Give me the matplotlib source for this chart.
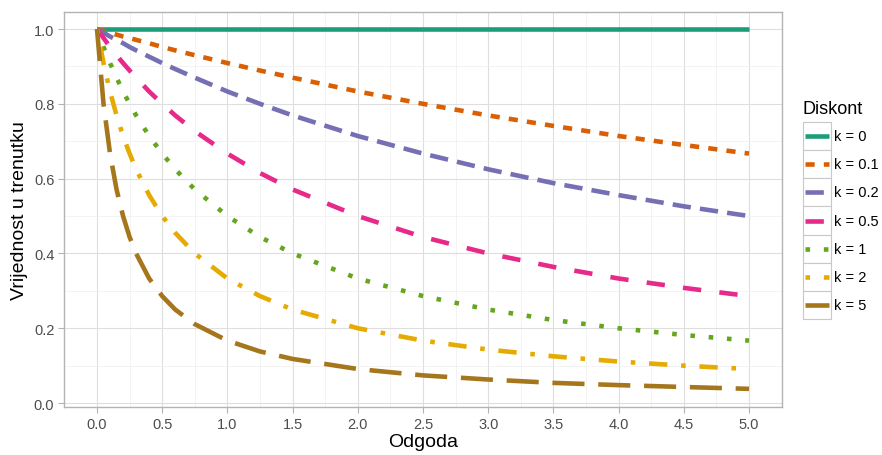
import numpy as np
import matplotlib.pyplot as plt
from matplotlib.patches import Rectangle

plt.rcParams['font.family'] = ['Liberation Sans', 'DejaVu Sans']

# odgoda (x) i vrijednosti procitane sa slike
odgoda = [0, 0.05, 0.1, 0.15, 0.2, 0.25, 0.3, 0.4, 0.5, 0.6, 0.75, 1, 1.25, 1.5, 2, 2.5, 3, 3.5, 4, 4.5, 5]
v_k0 = [1] * len(odgoda)
v_k01 = [1, .995, .99, .985, .98, .976, .971, .962, .952, .943, .930, .909, .889, .870, .833, .800, .769, .741, .714, .690, .667]
v_k02 = [1, .99, .98, .971, .962, .952, .943, .926, .909, .893, .870, .833, .800, .769, .714, .667, .625, .588, .556, .526, .500]
v_k05 = [1, .976, .952, .930, .909, .889, .870, .833, .800, .769, .727, .667, .615, .571, .500, .444, .400, .364, .333, .308, .286]
v_k1 = [1, .952, .909, .870, .833, .800, .769, .714, .667, .625, .571, .500, .444, .400, .333, .286, .250, .222, .200, .182, .167]
v_k2 = [1, .909, .833, .769, .714, .667, .625, .556, .500, .455, .400, .333, .286, .250, .200, .167, .143, .125, .111, .100, .091]
v_k5 = [1, .800, .667, .571, .500, .444, .400, .333, .286, .250, .211, .167, .138, .118, .091, .074, .063, .054, .048, .043, .038]

labels = ['k = 0', 'k = 0.1', 'k = 0.2', 'k = 0.5', 'k = 1', 'k = 2', 'k = 5']
series = [v_k0, v_k01, v_k02, v_k05, v_k1, v_k2, v_k5]
colors = ['#1B9E77', '#D95F02', '#7570B3', '#E7298A', '#66A61E', '#E6AB02', '#A6761D']
# ggplot linetypes: solid, 22, 42, 44, 13, 1343, 73
dashes = [None, (2, 2), (4, 2), (4, 4), (1, 3), (1, 3, 4, 3), (7, 3)]
lw = 3.3

fig = plt.figure(figsize=(8.82, 4.56), dpi=100)
W, H = 882, 456
ax = fig.add_axes([64 / W, (H - 408) / H, (782 - 64) / W, (408 - 13) / H])

for y, c, d in zip(series, colors, dashes):
    ln, = ax.plot(odgoda, y, color=c, lw=lw, solid_capstyle='butt', dash_capstyle='butt')
    if d is not None:
        ln.set_dashes(d)

ax.set_xlim(-0.253, 5.253)
ax.set_ylim(-0.0105, 1.0455)
ax.set_xticks(np.arange(0, 5.01, 0.5))
ax.set_xticks(np.arange(0.25, 5.0, 0.5), minor=True)
ax.set_yticks(np.arange(0, 1.01, 0.2))
ax.set_yticks(np.arange(0.1, 1.0, 0.2), minor=True)
ax.set_xticklabels([f'{v:.1f}' for v in np.arange(0, 5.01, 0.5)])
ax.set_yticklabels([f'{v:.1f}' for v in np.arange(0, 1.01, 0.2)])
ax.grid(which='major', color='#DEDEDE', lw=0.8)
ax.grid(which='minor', color='#EFEFEF', lw=0.5)
ax.set_axisbelow(True)
for s in ax.spines.values():
    s.set_color('#B3B3B3')
    s.set_linewidth(1.0)
ax.tick_params(which='major', colors='#B3B3B3', length=4, width=0.8,
               labelcolor='#4D4D4D', labelsize=10.5, pad=3)
ax.tick_params(which='minor', length=0)
ax.set_xlabel('Odgoda', fontsize=14, labelpad=2)
ax.set_ylabel('Vrijednost u trenutku', fontsize=14, labelpad=4)

# legenda
lax = fig.add_axes([803 / W, (H - 320) / H, 28 / W, 197 / H])
lax.set_xlim(0, 1)
lax.set_ylim(7, 0)
lax.axis('off')
for i, (c, d, lab) in enumerate(zip(colors, dashes, labels)):
    lax.add_patch(Rectangle((0, i), 1, 1, facecolor='white', edgecolor='#C8C8C8',
                            lw=0.8, clip_on=False))
    ln, = lax.plot([0.08, 0.92], [i + 0.5, i + 0.5], color=c, lw=lw,
                   solid_capstyle='butt', dash_capstyle='butt')
    if d is not None:
        ln.set_dashes(d)
    lax.text(1.12, i + 0.5, lab, va='center', ha='left', fontsize=10.5, color='black')
fig.text(803 / W, (H - 110) / H, 'Diskont', fontsize=13, va='center', ha='left')

fig.savefig('out.png', dpi=100)
